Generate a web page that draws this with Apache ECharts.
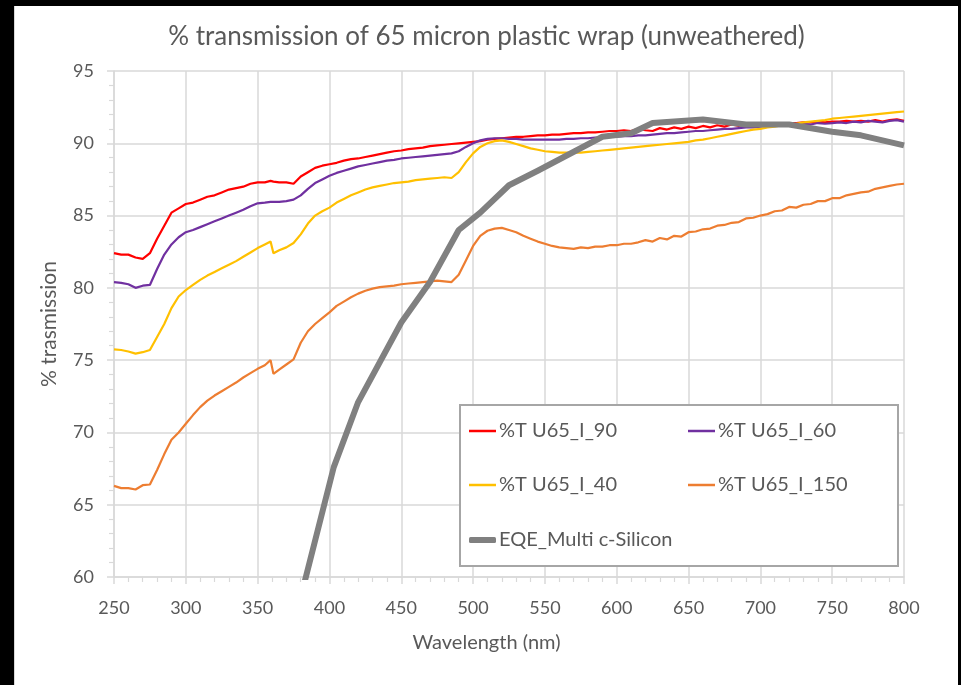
<!DOCTYPE html>
<html>
<head>
<meta charset="utf-8">
<title>% transmission of 65 micron plastic wrap</title>
<script src="https://cdn.jsdelivr.net/npm/echarts@6/dist/echarts.min.js"></script>
<style>
  html, body { margin: 0; padding: 0; background: #000; width: 961px; height: 685px; overflow: hidden; }
  #frame { position: absolute; left: 14px; top: 6px; width: 943px; height: 679px; background: #fff; border-left: 1px solid #d9d9d9; }
  #chart { width: 943px; height: 679px; }
</style>
</head>
<body>
<div id="frame"><div id="chart"></div></div>
<script>
// Wavelength grid (nm) shared by the four transmission spectra
const wavelength = [
  250, 255, 260, 265, 270, 275, 280, 285, 290, 295,
  300, 305, 310, 315, 320, 325, 330, 335, 340, 345,
  350, 355, 359, 361,
  365, 370, 375, 380, 385, 390, 395, 400,
  405, 410, 415, 420, 425, 430, 435, 440, 445, 450,
  455, 460, 465, 470, 475, 480, 485, 490, 495, 500,
  505, 510, 515, 520, 525, 530, 535, 540, 545, 550,
  555, 560, 565, 570, 575, 580, 585, 590, 595, 600,
  605, 610, 615, 620, 625, 630, 635, 640, 645, 650,
  655, 660, 665, 670, 675, 680, 685, 690, 695, 700,
  705, 710, 715, 720, 725, 730, 735, 740, 745, 750,
  755, 760, 765, 770, 775, 780, 785, 790, 795, 800
];

const tU65_I_90 = [
  82.4, 82.3, 82.3, 82.1, 82.0, 82.4, 83.4, 84.3, 85.2, 85.5,
  85.8, 85.9, 86.1, 86.3, 86.4, 86.6, 86.8, 86.9, 87.0, 87.2,
  87.3, 87.3, 87.4, 87.35,
  87.3, 87.3, 87.2, 87.7, 88.0, 88.3, 88.45, 88.55,
  88.65, 88.8, 88.9, 88.95, 89.05, 89.15, 89.25, 89.35, 89.45, 89.5,
  89.6, 89.65, 89.7, 89.8, 89.85, 89.9, 89.95, 90.0, 90.05, 90.1,
  90.15, 90.25, 90.3, 90.35, 90.4, 90.45, 90.45, 90.5, 90.55, 90.55,
  90.6, 90.6, 90.65, 90.7, 90.7, 90.75, 90.75, 90.8, 90.85, 90.85,
  90.9, 90.85, 91.0, 90.9, 90.85, 91.05, 90.95, 91.1, 91.0, 91.15,
  91.05, 91.2, 91.1, 91.25, 91.15, 91.3, 91.2, 91.3, 91.3, 91.3,
  91.35, 91.35, 91.4, 91.4, 91.4, 91.45, 91.45, 91.5, 91.45, 91.5,
  91.5, 91.55, 91.5, 91.55, 91.5, 91.6, 91.5, 91.6, 91.65, 91.55
];

const tU65_I_60 = [
  80.4, 80.35, 80.25, 80.0, 80.15, 80.2, 81.3, 82.3, 83.0, 83.5,
  83.85, 84.0, 84.2, 84.4, 84.6, 84.8, 85.0, 85.2, 85.4, 85.65,
  85.85, 85.9, 85.95, 85.95,
  85.95, 86.0, 86.1, 86.4, 86.85, 87.25, 87.5, 87.75,
  87.95, 88.1, 88.25, 88.4, 88.5, 88.6, 88.7, 88.8, 88.85, 88.95,
  89.0, 89.05, 89.1, 89.15, 89.2, 89.25, 89.3, 89.45, 89.75, 90.0,
  90.2, 90.3, 90.35, 90.35, 90.3, 90.3, 90.25, 90.25, 90.25, 90.25,
  90.25, 90.25, 90.3, 90.3, 90.35, 90.35, 90.4, 90.4, 90.45, 90.45,
  90.5, 90.5, 90.55, 90.55, 90.6, 90.65, 90.7, 90.7, 90.75, 90.8,
  90.85, 90.85, 90.9, 90.95, 91.0, 91.0, 91.05, 91.1, 91.1, 91.15,
  91.2, 91.2, 91.25, 91.3, 91.3, 91.35, 91.3, 91.4, 91.35, 91.4,
  91.45, 91.4, 91.5, 91.45, 91.55, 91.5, 91.45, 91.55, 91.6, 91.5
];

const tU65_I_40 = [
  75.75, 75.7, 75.6, 75.45, 75.55, 75.7, 76.6, 77.5, 78.6, 79.4,
  79.85, 80.2, 80.55, 80.85, 81.1, 81.35, 81.6, 81.85, 82.15, 82.45,
  82.75, 83.0, 83.2, 82.4,
  82.6, 82.8, 83.1, 83.7, 84.45, 85.0, 85.3, 85.55,
  85.9, 86.15, 86.4, 86.6, 86.8, 86.95, 87.05, 87.15, 87.25, 87.3,
  87.35, 87.45, 87.5, 87.55, 87.6, 87.65, 87.6, 88.0, 88.7, 89.3,
  89.75, 90.0, 90.15, 90.2, 90.1, 89.95, 89.8, 89.65, 89.55, 89.45,
  89.4, 89.35, 89.35, 89.35, 89.35, 89.4, 89.45, 89.5, 89.55, 89.6,
  89.65, 89.7, 89.75, 89.8, 89.85, 89.9, 89.95, 90.0, 90.05, 90.1,
  90.2, 90.25, 90.35, 90.45, 90.55, 90.65, 90.75, 90.85, 90.95, 91.0,
  91.1, 91.15, 91.25, 91.3, 91.35, 91.45, 91.5, 91.55, 91.6, 91.7,
  91.75, 91.8, 91.85, 91.9, 91.95, 92.0, 92.05, 92.1, 92.15, 92.2
];

const tU65_I_150 = [
  66.3, 66.15, 66.15, 66.05, 66.35, 66.4, 67.4, 68.5, 69.5, 70.0,
  70.6, 71.2, 71.75, 72.2, 72.55, 72.85, 73.15, 73.45, 73.8, 74.1,
  74.4, 74.65, 75.0, 74.05,
  74.35, 74.7, 75.05, 76.2, 77.0, 77.5, 77.9, 78.3,
  78.75, 79.05, 79.35, 79.6, 79.8, 79.95, 80.05, 80.1, 80.15, 80.25,
  80.3, 80.35, 80.4, 80.45, 80.5, 80.45, 80.4, 80.9, 81.9, 82.9,
  83.6, 83.95, 84.1, 84.15, 84.0, 83.85, 83.6, 83.4, 83.2, 83.05,
  82.9, 82.8, 82.75, 82.7, 82.8, 82.75, 82.85, 82.85, 82.95, 82.95,
  83.05, 83.05, 83.15, 83.3, 83.2, 83.45, 83.35, 83.6, 83.55, 83.85,
  83.9, 84.05, 84.1, 84.3, 84.35, 84.5, 84.55, 84.8, 84.85, 85.0,
  85.1, 85.3, 85.35, 85.6, 85.55, 85.75, 85.8, 86.0, 86.0, 86.2,
  86.2, 86.4, 86.5, 86.6, 86.65, 86.85, 86.95, 87.05, 87.15, 87.2
];

// External quantum efficiency of a multicrystalline silicon cell
const eqeWavelength = [380, 403, 420, 450, 470, 490, 505, 525, 545, 590, 610, 625, 660, 690, 720, 750, 770, 800];
const eqeMultiSi = [58.6, 67.6, 72.1, 77.6, 80.4, 84.0, 85.2, 87.1, 88.1, 90.45, 90.7, 91.4, 91.65, 91.3, 91.3, 90.8, 90.55, 89.85];

const xTicks = [250, 300, 350, 400, 450, 500, 550, 600, 650, 700, 750, 800];
const yTicks = [60, 65, 70, 75, 80, 85, 90, 95];

const pairs = (xs, ys) => xs.map((x, i) => [x, ys[i]]);

const FONT = 'Lato';
const TEXT = '#595959';
const GRID = '#d9d9d9';

const spectra = [
  { name: '%T U65_I_90', values: tU65_I_90, color: '#ff0000' },
  { name: '%T U65_I_60', values: tU65_I_60, color: '#7030a0' },
  { name: '%T U65_I_40', values: tU65_I_40, color: '#ffc000' },
  { name: '%T U65_I_150', values: tU65_I_150, color: '#ed7d31' }
];

const series = spectra.map(s => ({
  name: s.name,
  type: 'line',
  data: pairs(wavelength, s.values),
  showSymbol: false,
  symbol: 'none',
  clip: true,
  color: s.color,
  lineStyle: { color: s.color, width: 2.2 },
  z: 3
}));
series.push({
  name: 'EQE_Multi c-Silicon',
  type: 'line',
  data: pairs(eqeWavelength, eqeMultiSi),
  showSymbol: false,
  symbol: 'none',
  clip: true,
  color: '#808080',
  lineStyle: { color: '#808080', width: 6, join: 'round' },
  z: 4
});

function legendItem(name, left, top, h, icon) {
  return {
    data: [name],
    left: left,
    top: top,
    z: 20,
    icon: icon || 'rect',
    itemWidth: 27,
    itemHeight: h,
    itemGap: 0,
    padding: 0,
    selectedMode: false,
    textStyle: { color: TEXT, fontSize: 20, fontFamily: FONT, padding: [0, 0, 0, -2] }
  };
}

const chart = echarts.init(document.getElementById('chart'), null, { renderer: 'canvas' });
chart.setOption({
  animation: false,
  backgroundColor: '#fff',
  textStyle: { fontFamily: FONT },
  title: [
    {
      text: '% transmission of 65 micron plastic wrap (unweathered)',
      left: 'center',
      top: 13,
      textStyle: { color: TEXT, fontSize: 26, fontWeight: 'normal', fontFamily: FONT }
    },
    {
      text: 'Wavelength (nm)',
      left: 'center',
      top: 622,
      textStyle: { color: TEXT, fontSize: 20, fontWeight: 'normal', fontFamily: FONT }
    }
  ],
  grid: { left: 99, top: 65, right: 54, bottom: 108, containLabel: false },
  xAxis: {
    type: 'value',
    min: xTicks[0],
    max: xTicks[xTicks.length - 1],
    interval: 50,
    axisLine: { show: true, lineStyle: { color: GRID, width: 1.5 } },
    axisTick: { show: true, length: 7, lineStyle: { color: GRID, width: 1.5 } },
    minorTick: { show: true, splitNumber: 5, length: 5, lineStyle: { color: GRID, width: 1.2 } },
    splitLine: { show: true, lineStyle: { color: GRID, width: 1.5 } },
    axisLabel: { color: TEXT, fontSize: 18, fontFamily: FONT, margin: 22 }
  },
  yAxis: {
    type: 'value',
    min: yTicks[0],
    max: yTicks[yTicks.length - 1],
    interval: 5,
    name: '% trasmission',
    nameLocation: 'middle',
    nameGap: 54,
    nameTextStyle: { color: TEXT, fontSize: 21, fontFamily: FONT },
    axisLine: { show: true, lineStyle: { color: GRID, width: 1.5 } },
    axisTick: { show: true, length: 7, lineStyle: { color: GRID, width: 1.5 } },
    minorTick: { show: true, splitNumber: 5, length: 5, lineStyle: { color: GRID, width: 1.2 } },
    splitLine: { show: true, lineStyle: { color: GRID, width: 1.5 } },
    axisLabel: { color: TEXT, fontSize: 18, fontFamily: FONT, margin: 20 }
  },
  legend: [
    legendItem('%T U65_I_90', 454, 415, 2.5),
    legendItem('%T U65_I_60', 673, 415, 2.5),
    legendItem('%T U65_I_40', 454, 469, 2.5),
    legendItem('%T U65_I_150', 673, 469, 2.5),
    legendItem('EQE_Multi c-Silicon', 454, 524, 6, 'roundRect')
  ],
  graphic: [
    {
      type: 'rect',
      left: 444,
      top: 398,
      shape: { width: 438, height: 161 },
      style: { fill: '#fff', stroke: '#a6a6a6', lineWidth: 2 },
      z: 5
    }
  ],
  series: series
});
</script>
</body>
</html>
